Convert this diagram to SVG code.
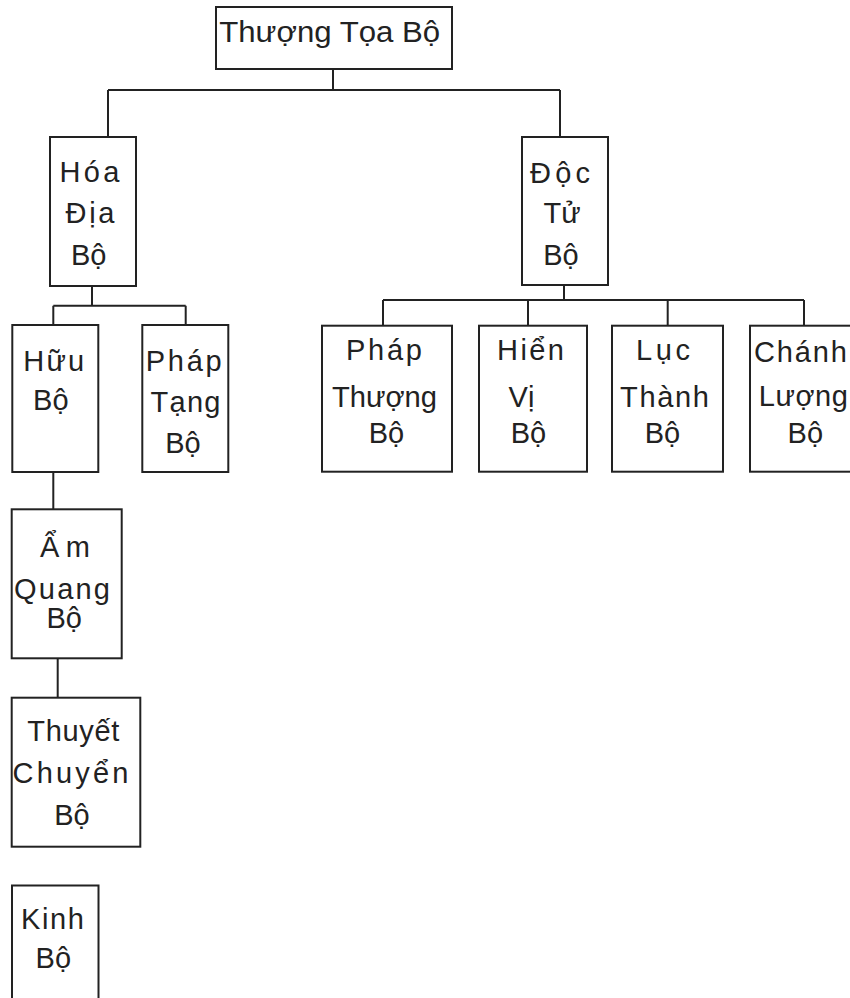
<svg xmlns="http://www.w3.org/2000/svg" width="850" height="998" viewBox="0 0 850 998">
<style>
.box{fill:#fff;stroke:#222;stroke-width:2}
.ln{fill:none;stroke:#222;stroke-width:2}
text{font-family:"Liberation Sans",Arial,sans-serif;font-size:29px;fill:#222;text-anchor:middle}
</style>
<rect width="850" height="998" fill="#fff"/>
<g id="connectors" class="ln">
<path d="M333 69V90M108 90H560M108 90V137M560 90V137"/>
<path d="M92 286V305.7M53.3 305.7H185.7M53.3 305.7V325M185.7 305.7V325"/>
<path d="M564 285V300M383 300H804M383 300V325.7M528 300V325.7M667.7 300V325.7M804 300V325.7"/>
<path d="M53.3 472V509.3M57.7 658V697.7"/>
</g>
<g id="thuong-toa-bo"><rect class="box" x="216" y="7" width="236" height="62"/><text x="329.7" y="42.3" style="font-size:30px" textLength="221" lengthAdjust="spacingAndGlyphs">Thượng Tọa Bộ</text></g>
<g id="hoa-dia-bo"><rect class="box" x="50" y="137" width="86" height="149"/><text x="89.5" y="181.7" textLength="60">Hóa</text><text x="90" y="223.3" textLength="49">Địa</text><text x="88.7" y="265">Bộ</text></g>
<g id="doc-tu-bo"><rect class="box" x="522" y="137" width="86" height="148"/><text x="560" y="182.7" textLength="60">Độc</text><text x="562" y="223">Tử</text><text x="561" y="265">Bộ</text></g>
<g id="huu-bo"><rect class="box" x="12.3" y="325" width="86" height="147"/><text x="53.7" y="370.7" textLength="61">Hữu</text><text x="50.8" y="410">Bộ</text></g>
<g id="phap-tang-bo"><rect class="box" x="142.3" y="325" width="86" height="147"/><text x="183.7" y="370.7" textLength="76">Pháp</text><text x="185.5" y="411.7" textLength="70">Tạng</text><text x="183" y="452.7">Bộ</text></g>
<g id="phap-thuong-bo"><rect class="box" x="322" y="325.7" width="130" height="146"/><text x="384" y="360" textLength="76">Pháp</text><text x="384.5" y="406.7" textLength="105" lengthAdjust="spacingAndGlyphs">Thượng</text><text x="386.5" y="443.3">Bộ</text></g>
<g id="hien-vi-bo"><rect class="box" x="479" y="325.7" width="108" height="146"/><text x="530.5" y="360" textLength="67">Hiển</text><text x="521.5" y="406.7">Vị</text><text x="528.5" y="443">Bộ</text></g>
<g id="luc-thanh-bo"><rect class="box" x="612" y="325.7" width="111" height="146"/><text x="663" y="360" textLength="54">Lục</text><text x="664.5" y="406.7" textLength="89">Thành</text><text x="662.5" y="443">Bộ</text></g>
<g id="chanh-luong-bo"><rect class="box" x="750" y="325.7" width="130" height="146"/><text x="754" y="361.7" style="text-anchor:start" textLength="93">Chánh</text><text x="803.3" y="406" textLength="89">Lượng</text><text x="805.3" y="443.3">Bộ</text></g>
<g id="am-quang-bo"><rect class="box" x="11.7" y="509.3" width="110" height="149"/><text x="65" y="556.7" textLength="50">Ẩm</text><text x="62" y="599" textLength="96">Quang</text><text x="64.2" y="628.3">Bộ</text></g>
<g id="thuyet-chuyen-bo"><rect class="box" x="11.7" y="697.7" width="128.6" height="149"/><text x="73.3" y="740.7" textLength="92">Thuyết</text><text x="70.5" y="782.7" textLength="116">Chuyển</text><text x="72" y="825">Bộ</text></g>
<g id="kinh-bo"><rect class="box" x="12" y="885.5" width="86.5" height="130"/><text x="52.5" y="929.3" textLength="63">Kinh</text><text x="53.3" y="967.7">Bộ</text></g>
</svg>
